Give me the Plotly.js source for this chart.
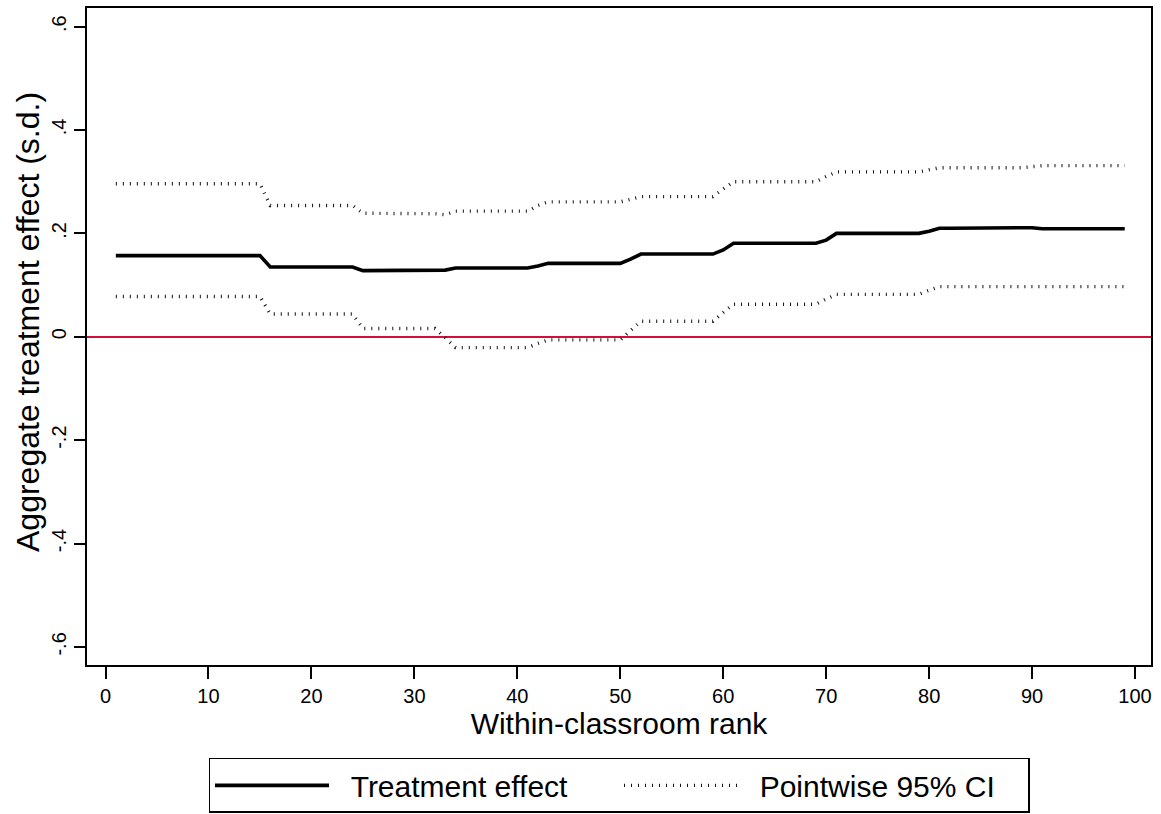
<!DOCTYPE html>
<html>
<head>
<meta charset="utf-8">
<script src="https://cdn.plot.ly/plotly-3.0.1.min.js"></script>
<style>
  html, body { margin: 0; padding: 0; background: #fff; }
  #chart { width: 1161px; height: 814px; }
</style>
</head>
<body>
<div id="chart"></div>
<script>
// Within-classroom rank (1..99)
const rank = [];
for (let r = 1; r <= 99; r++) rank.push(r);

// Estimated aggregate treatment effect (s.d.) at each rank
const effect = [
  0.157, 0.157, 0.157, 0.157, 0.157, 0.157, 0.157, 0.157, 0.157, 0.157,
  0.157, 0.157, 0.157, 0.157, 0.157, 0.135, 0.135, 0.135, 0.135, 0.135,
  0.135, 0.135, 0.135, 0.135, 0.128, 0.128, 0.128, 0.128, 0.128, 0.128,
  0.128, 0.128, 0.129, 0.133, 0.133, 0.133, 0.133, 0.133, 0.133, 0.133,
  0.133, 0.137, 0.142, 0.142, 0.142, 0.142, 0.142, 0.142, 0.142, 0.142,
  0.150, 0.160, 0.160, 0.160, 0.160, 0.160, 0.160, 0.160, 0.160, 0.168,
  0.181, 0.181, 0.181, 0.181, 0.181, 0.181, 0.181, 0.181, 0.181, 0.187,
  0.200, 0.200, 0.200, 0.200, 0.200, 0.200, 0.200, 0.200, 0.200, 0.204,
  0.210, 0.210, 0.210, 0.210, 0.210, 0.210, 0.210, 0.210, 0.210, 0.211,
  0.209, 0.209, 0.209, 0.209, 0.209, 0.209, 0.209, 0.209, 0.209
];

// Pointwise 95% CI, upper bound
const ciUpper = [
  0.296, 0.296, 0.296, 0.296, 0.296, 0.296, 0.296, 0.296, 0.296, 0.296,
  0.296, 0.296, 0.296, 0.296, 0.296, 0.254, 0.254, 0.254, 0.254, 0.254,
  0.254, 0.254, 0.254, 0.254, 0.239, 0.239, 0.239, 0.239, 0.239, 0.239,
  0.239, 0.238, 0.236, 0.243, 0.243, 0.243, 0.243, 0.243, 0.243, 0.243,
  0.243, 0.254, 0.261, 0.261, 0.261, 0.261, 0.261, 0.261, 0.261, 0.261,
  0.266, 0.271, 0.271, 0.271, 0.271, 0.271, 0.271, 0.271, 0.271, 0.286,
  0.300, 0.300, 0.300, 0.300, 0.300, 0.300, 0.300, 0.300, 0.300, 0.310,
  0.319, 0.319, 0.319, 0.319, 0.319, 0.319, 0.319, 0.319, 0.319, 0.323,
  0.327, 0.327, 0.327, 0.327, 0.327, 0.327, 0.327, 0.327, 0.327, 0.329,
  0.331, 0.331, 0.331, 0.331, 0.331, 0.331, 0.331, 0.331, 0.331
];

// Pointwise 95% CI, lower bound
const ciLower = [
  0.078, 0.078, 0.078, 0.078, 0.078, 0.078, 0.078, 0.078, 0.078, 0.078,
  0.078, 0.078, 0.078, 0.078, 0.078, 0.044, 0.044, 0.044, 0.044, 0.044,
  0.044, 0.044, 0.044, 0.044, 0.016, 0.016, 0.016, 0.016, 0.016, 0.016,
  0.016, 0.016, -0.002, -0.021, -0.021, -0.021, -0.021, -0.021, -0.021, -0.021,
  -0.021, -0.013, -0.006, -0.006, -0.006, -0.006, -0.006, -0.006, -0.006, -0.006,
  0.012, 0.030, 0.030, 0.030, 0.030, 0.030, 0.030, 0.030, 0.030, 0.047,
  0.063, 0.063, 0.063, 0.063, 0.063, 0.063, 0.063, 0.063, 0.063, 0.073,
  0.082, 0.082, 0.082, 0.082, 0.082, 0.082, 0.082, 0.082, 0.082, 0.090,
  0.097, 0.097, 0.097, 0.097, 0.097, 0.097, 0.097, 0.097, 0.097, 0.097,
  0.097, 0.097, 0.097, 0.097, 0.097, 0.097, 0.097, 0.097, 0.097
];

// Axis ticks
const xTicks = [0, 10, 20, 30, 40, 50, 60, 70, 80, 90, 100];
const yTickVals = [-0.6, -0.4, -0.2, 0, 0.2, 0.4, 0.6];
const yTickText = ['-.6', '-.4', '-.2', '0', '.2', '.4', '.6'];

const FONT = 'Liberation Sans, Arial, Helvetica, sans-serif';
const ciDash = '1px,6px';
const NB = '\u00a0';

const traces = [
  {
    x: rank, y: effect, type: 'scatter', mode: 'lines',
    name: NB + NB + 'Treatment effect',
    line: { color: '#000000', width: 3.6 }
  },
  {
    x: rank, y: ciUpper, type: 'scatter', mode: 'lines',
    name: NB + NB + 'Pointwise 95% CI',
    line: { color: '#111111', width: 3.4, dash: ciDash }
  },
  {
    x: rank, y: ciLower, type: 'scatter', mode: 'lines',
    name: 'Pointwise 95% CI', showlegend: false,
    line: { color: '#111111', width: 3.4, dash: ciDash }
  }
];

const layout = {
  width: 1161, height: 814,
  margin: { l: 87, r: 10, t: 8, b: 149, autoexpand: false },
  paper_bgcolor: '#ffffff',
  plot_bgcolor: '#ffffff',
  font: { family: FONT, color: '#000000' },
  showlegend: true,
  xaxis: {
    range: [-1.8, 101.55],
    tickvals: xTicks,
    ticks: 'outside', ticklen: 12, tickwidth: 2, tickcolor: '#000',
    tickfont: { size: 20, family: FONT },
    showline: true, linecolor: '#000', linewidth: 2, mirror: true,
    showgrid: false, zeroline: false,
    title: { text: 'Within-classroom rank', font: { size: 30, family: FONT }, standoff: 4 }
  },
  yaxis: {
    range: [-0.635, 0.636],
    tickvals: yTickVals, ticktext: yTickText, tickangle: -90,
    ticks: 'outside', ticklen: 11, tickwidth: 2, tickcolor: '#000',
    tickfont: { size: 20, family: FONT },
    showline: true, linecolor: '#000', linewidth: 2, mirror: true,
    showgrid: false,
    zeroline: true, zerolinecolor: '#d0103a', zerolinewidth: 2
  },
  // vertical axis title, set slightly above the plot's middle
  annotations: [{
    text: 'Aggregate treatment effect (s.d.)',
    xref: 'paper', yref: 'paper',
    x: -0.0555, y: 0.522,
    xanchor: 'center', yanchor: 'middle',
    textangle: -90, showarrow: false,
    font: { size: 32, family: FONT, color: '#000' }
  }],
  legend: {
    orientation: 'h',
    x: 0.5, xanchor: 'center',
    y: -0.225, yanchor: 'bottom',
    bordercolor: '#000', borderwidth: 1.5,
    bgcolor: '#ffffff',
    font: { size: 30, family: FONT },
    itemwidth: 114,
    entrywidth: 280, entrywidthmode: 'pixels',
    traceorder: 'normal'
  }
};

Plotly.newPlot('chart', traces, layout, { staticPlot: true, displayModeBar: false });
</script>
</body>
</html>
